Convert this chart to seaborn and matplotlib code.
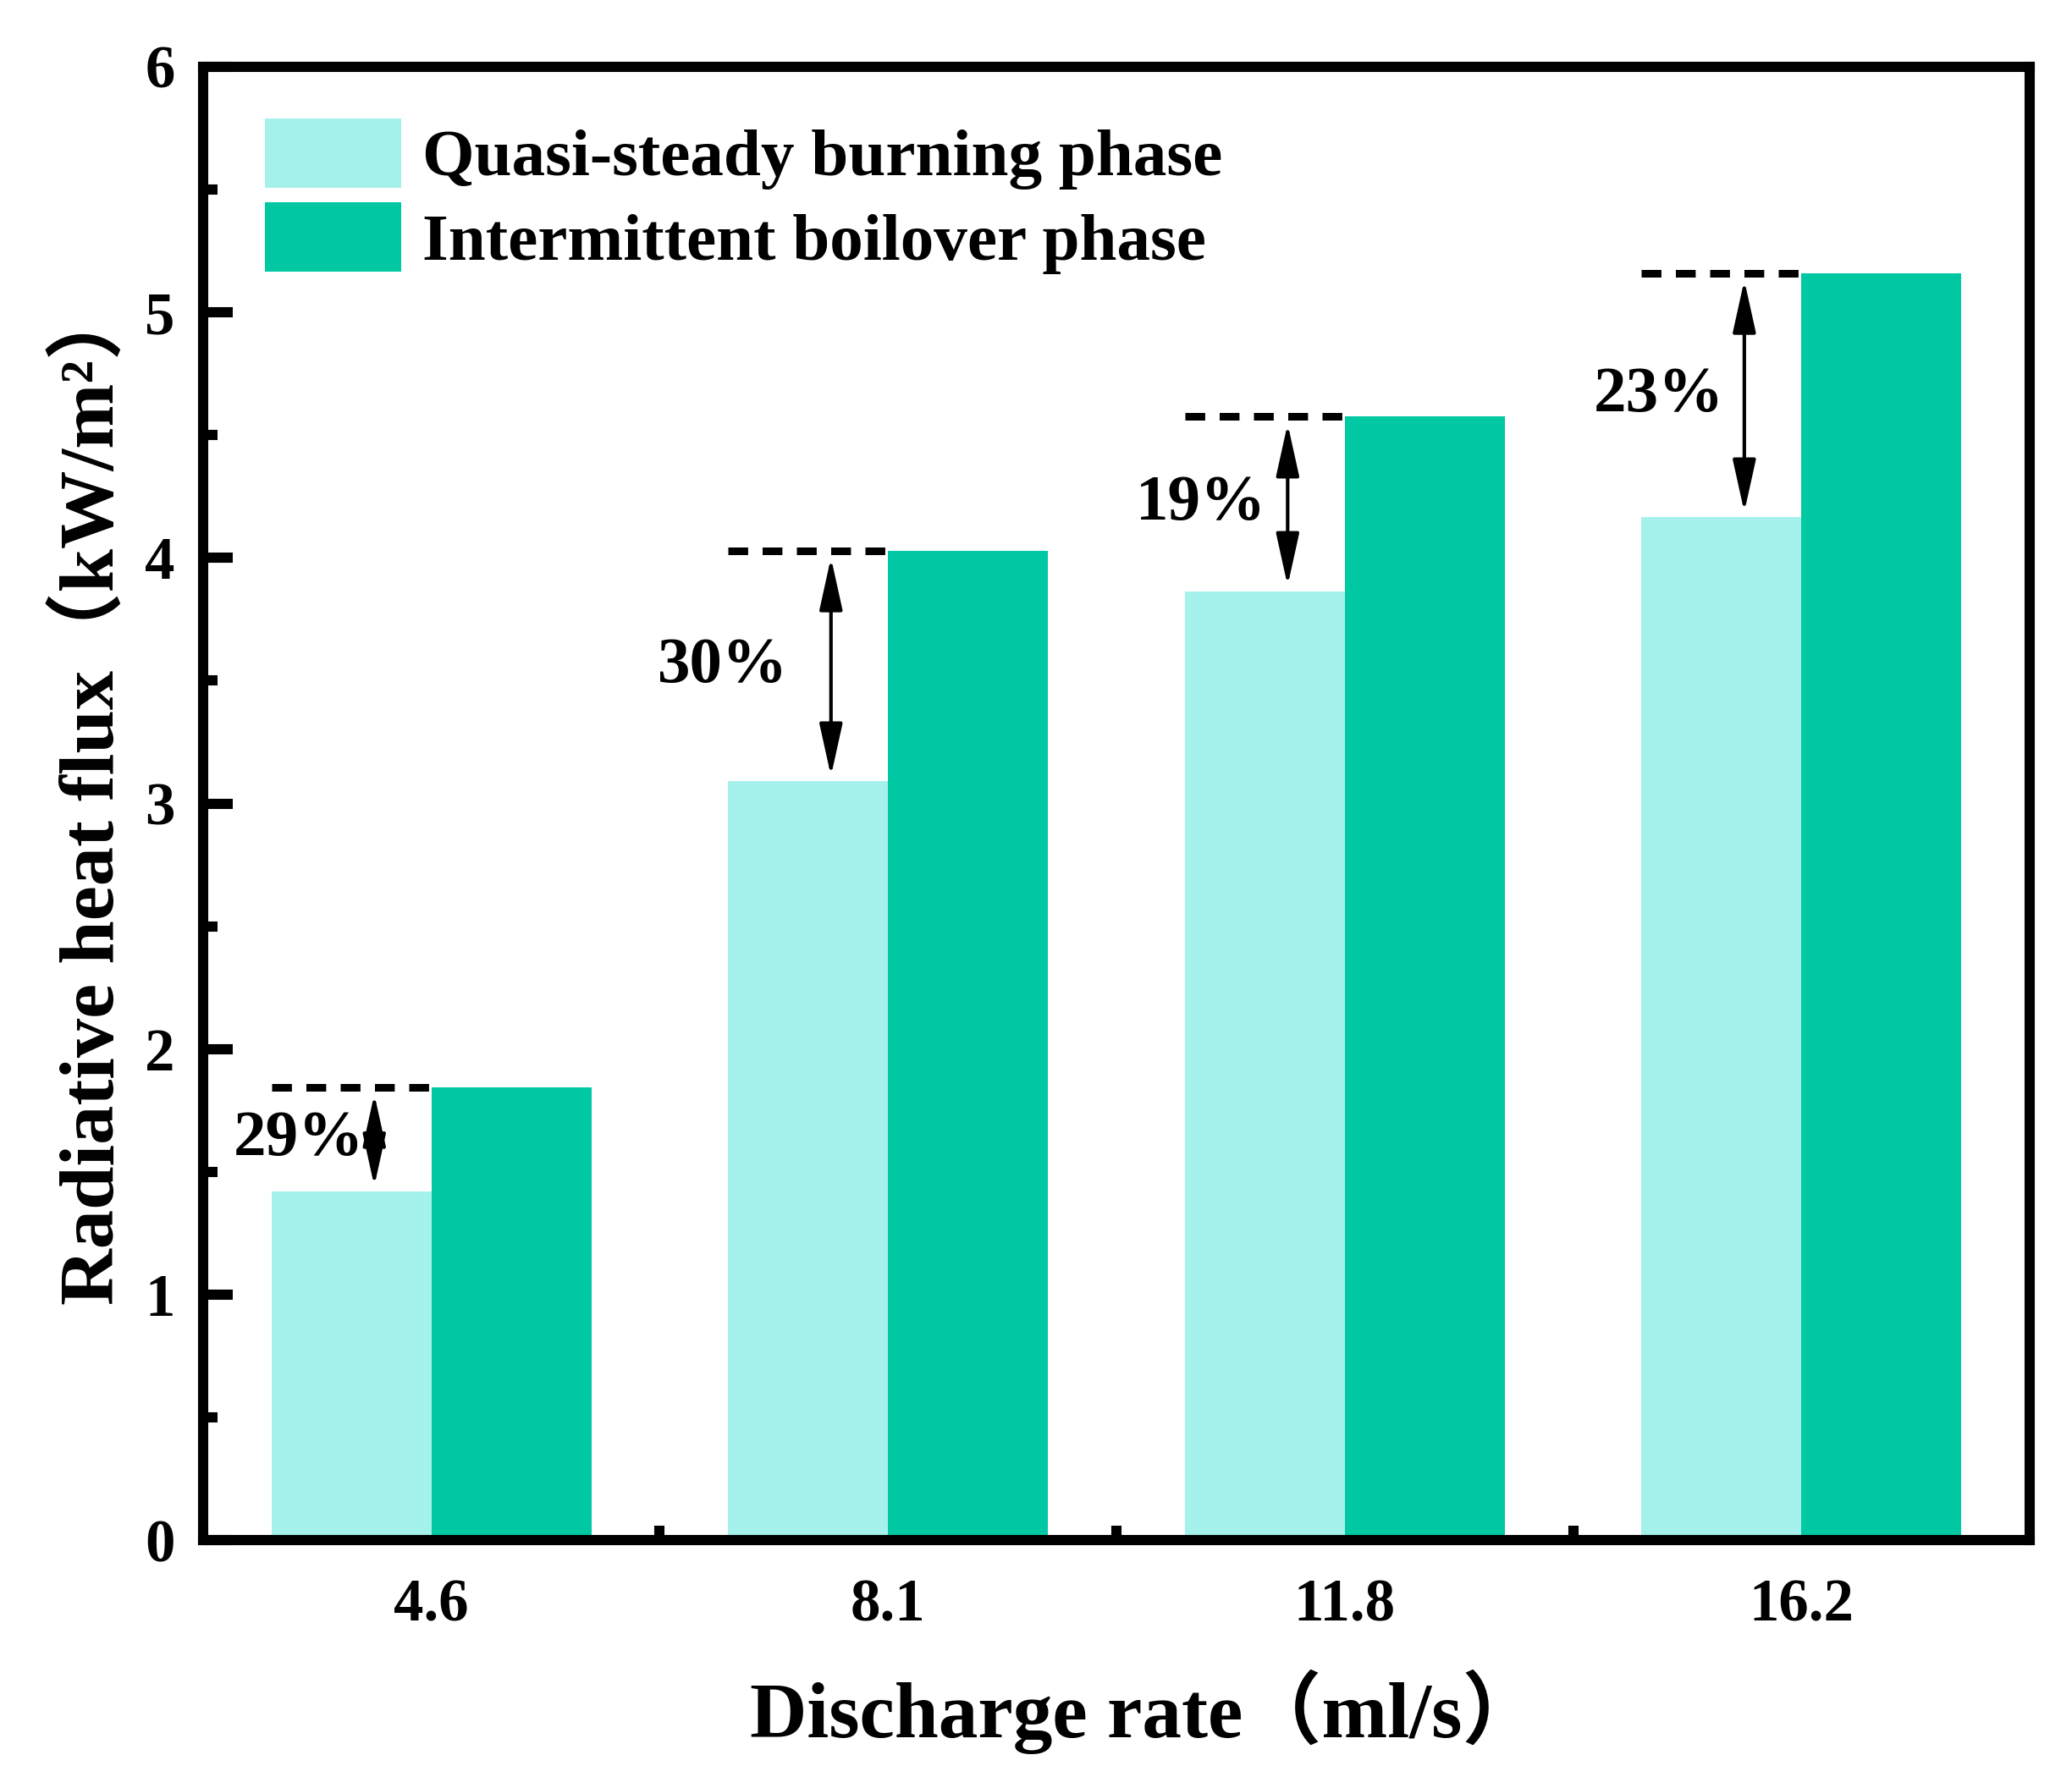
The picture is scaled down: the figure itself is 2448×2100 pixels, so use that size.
import matplotlib
matplotlib.use("Agg")
import matplotlib.pyplot as plt
import seaborn as sns
import pandas as pd
from matplotlib.ticker import MultipleLocator

# ---- data ----
rates = ["4.6", "8.1", "11.8", "16.2"]
quasi_steady = [1.42, 3.09, 3.865, 4.165]
boilover = [1.845, 4.03, 4.575, 5.16]
pct_labels = ["29%", "30%", "19%", "23%"]
phase_names = ["Quasi-steady burning phase", "Intermittent boilover phase"]
yticks = [0, 1, 2, 3, 4, 5, 6]

df = pd.DataFrame({
    "rate": rates * 2,
    "flux": quasi_steady + boilover,
    "phase": [phase_names[0]] * len(rates) + [phase_names[1]] * len(rates),
})

sns.set_theme(style="ticks")
plt.rcParams["font.family"] = ["Liberation Serif", "Noto Sans CJK SC"]
plt.rcParams["font.weight"] = "bold"
plt.rcParams["axes.labelweight"] = "bold"
plt.rcParams["text.color"] = "black"
plt.rcParams["axes.labelcolor"] = "black"
plt.rcParams["xtick.color"] = "black"
plt.rcParams["ytick.color"] = "black"
plt.rcParams["axes.edgecolor"] = "black"

light = "#A5F2EC"
dark = "#00C8A2"

fig = plt.figure(figsize=(8.16, 7.0), dpi=300)
ax = fig.add_axes([0.098, 0.1333, 0.8816, 0.8291])

sns.barplot(data=df, x="rate", y="flux", hue="phase", order=rates,
            hue_order=phase_names, palette=[light, dark], width=0.7,
            saturation=1, linewidth=0, edgecolor="none", ax=ax)

ax.set_xlim(-0.5, 3.5)
ax.set_ylim(0, 6)
ax.set_yticks(yticks)
ax.yaxis.set_minor_locator(MultipleLocator(0.5))
ax.set_xticks(range(len(rates)))
ax.set_xticklabels(rates)
ax.set_xticks([0.5, 1.5, 2.5], minor=True)

for sp in ax.spines.values():
    sp.set_linewidth(2.9)
    sp.set_color("black")

ax.tick_params(axis="both", which="major", direction="in", length=8.4,
               width=2.9, labelsize=17, color="black", labelcolor="black")
ax.tick_params(axis="both", which="minor", direction="in", length=4.1,
               width=2.9, color="black")
ax.tick_params(axis="y", which="major", pad=8)
ax.tick_params(axis="x", which="major", pad=11)
for lab in ax.get_xticklabels() + ax.get_yticklabels():
    lab.set_fontweight("bold")

ax.set_xlabel("Discharge rate（ml/s）", fontsize=22.4, fontweight="bold",
              labelpad=10, color="black")
ax.set_ylabel("Radiative heat flux（kW/m²）", fontsize=22.2, fontweight="bold",
              labelpad=4.5, color="black")
ax.xaxis.label.set_x(0.516)
ax.yaxis.label.set_y(0.507)

# annotations: dashed reference lines, double arrows, percentage labels
bw = 0.35
text_dx = [-0.29, -0.362, -0.315, -0.312]
for i, (lo, hi, lab) in enumerate(zip(quasi_steady, boilover, pct_labels)):
    ax.plot([i - bw, i], [hi, hi], color="black", lw=2.16,
            linestyle=(0, (2.6, 1.9)), solid_capstyle="butt",
            dash_capstyle="butt")
    ax.annotate("", xy=(i - 0.125, hi), xytext=(i - 0.125, lo),
                arrowprops=dict(arrowstyle="<|-|>,head_length=12.7,head_width=2.8",
                                mutation_scale=1, lw=1.0, color="black",
                                shrinkA=1.5, shrinkB=2))
    ax.text(i + text_dx[i], (lo + hi) / 2, lab, ha="center", va="center",
            fontsize=18.5, fontweight="bold", color="black")

leg = ax.legend(loc="upper left", bbox_to_anchor=(0.034, 0.965), frameon=False,
                fontsize=19, handlelength=2.03, handleheight=1.21,
                labelspacing=0.19, handletextpad=0.31, borderpad=0,
                borderaxespad=0)
for t in leg.get_texts():
    t.set_fontweight("bold")
    t.set_color("black")

fig.savefig("out.png", dpi=300)
